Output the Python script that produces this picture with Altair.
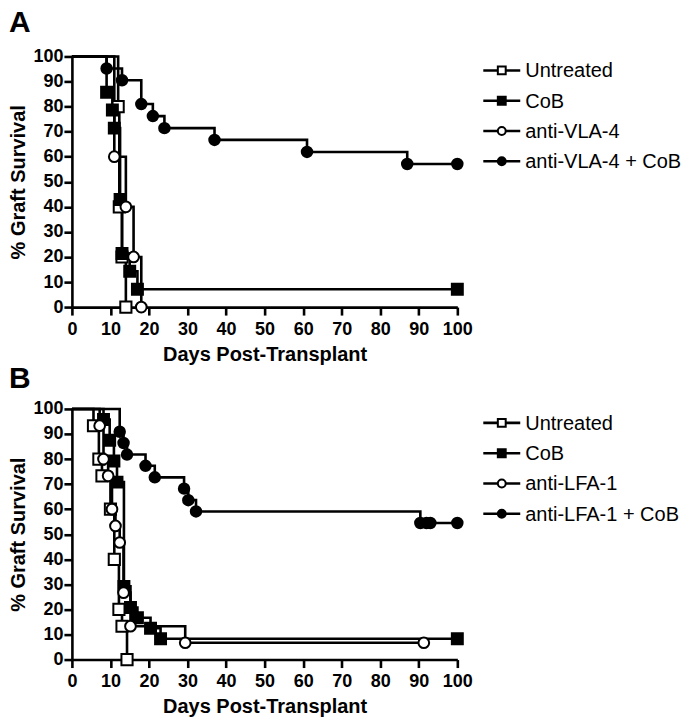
import altair as alt
import pandas as pd

# ---------------- Panel A data ----------------
A_series = ["Untreated", "CoB", "anti-VLA-4", "anti-VLA-4 + CoB"]
A_untreated_days = [0, 12, 12.3, 13, 14]
A_untreated_surv = [100, 80, 40, 20, 0]
A_cob_days = [0, 9, 10.5, 11, 12.5, 13, 15, 17, 100]
A_cob_surv = [100, 85.7, 78.6, 71.4, 42.9, 21.4, 14.3, 7.1, 7.1]
A_vla_days = [0, 11, 14, 16, 18]
A_vla_surv = [100, 60, 40, 20, 0]
A_vlacob_days = [0, 9, 13, 18, 21, 24, 37, 61, 87, 100]
A_vlacob_surv = [100, 95.2, 90.5, 81.0, 76.2, 71.4, 66.7, 61.9, 57.1, 57.1]

# ---------------- Panel B data ----------------
B_series = ["Untreated", "CoB", "anti-LFA-1", "anti-LFA-1 + CoB"]
B_untreated_days = [0, 5.6, 7, 7.8, 10, 11, 12.2, 13, 14.3]
B_untreated_surv = [100, 93.3, 80, 73.3, 60, 40, 20, 13.3, 0]
B_cob_days = [0, 8.2, 9.8, 10.9, 11.7, 13.5, 15.2, 17, 20.4, 23, 100]
B_cob_surv = [100, 95.8, 87.5, 79.2, 70.8, 29.2, 20.8, 16.7, 12.5, 8.3, 8.3]
B_lfa_days = [0, 7.2, 8.2, 9.4, 10.4, 11.3, 12.4, 13.4, 15.2, 29.4, 91.3]
B_lfa_surv = [100, 93.3, 80, 73.3, 60, 53.3, 46.7, 26.7, 13.3, 6.7, 6.7]
B_lfacob_days = [0, 12.4, 13.4, 14.3, 19.1, 21.5, 29.1, 30.2, 32.2, 90.4, 92, 93, 100]
B_lfacob_surv = [100, 90.9, 86.4, 81.8, 77.3, 72.7, 68.2, 63.6, 59.1, 54.5, 54.5, 54.5, 54.5]

x_ticks = list(range(0, 101, 10))
y_ticks = list(range(0, 101, 10))

FONT = "Liberation Sans"

fills = ["white", "black", "white", "black"]
plot_shapes = ["square", "square", "circle", "circle"]
plot_sizes = [125, 110, 95, 105]


def build_df(series, days_list, surv_list):
    rows = []
    for s, ds, vs in zip(series, days_list, surv_list):
        for i, (d, v) in enumerate(zip(ds, vs)):
            rows.append({"series": s, "day": d, "surv": v, "ord": i, "marker": i > 0})
    return pd.DataFrame(rows)


def panel(letter, series, df, t_offset):
    shape_enc = alt.Shape("series:N", scale=alt.Scale(domain=series, range=plot_shapes), legend=None)
    fill_enc = alt.Fill("series:N", scale=alt.Scale(domain=series, range=fills), legend=None)
    x = alt.X("day:Q", scale=alt.Scale(domain=[0, 100], nice=False),
              axis=alt.Axis(values=x_ticks, title="Days Post-Transplant"))
    y = alt.Y("surv:Q", scale=alt.Scale(domain=[0, 100], nice=False),
              axis=alt.Axis(values=y_ticks, title="% Graft Survival"))
    base = alt.Chart(df)
    lines = base.mark_line(interpolate="step-after", color="black", strokeWidth=2.6).encode(
        x=x, y=y, detail="series:N", order="ord:Q")
    pts = base.transform_filter("datum.marker").mark_point(
        stroke="black", strokeWidth=2, opacity=1, fillOpacity=1).encode(
        x=x, y=y, shape=shape_enc, fill=fill_enc,
        size=alt.Size("series:N", scale=alt.Scale(domain=series, range=plot_sizes), legend=None),
    )
    plot = alt.layer(lines, pts)

    # legend drawn as its own small layer (row position from a scale)
    leg_df = pd.DataFrame({"series": series, "idx": list(range(len(series)))})
    ly = alt.Y("idx:Q", scale=alt.Scale(domain=[0, 3], range=[14, 105]), axis=None)
    lbase = alt.Chart(leg_df)
    lrule = lbase.mark_rule(color="black", strokeWidth=2.6).encode(
        x=alt.value(412), x2=alt.value(449), y=ly)
    lpts = lbase.mark_point(stroke="black", strokeWidth=2, opacity=1, fillOpacity=1, size=62).encode(
        x=alt.value(430.5), y=ly, shape=shape_enc, fill=fill_enc)
    ltext = lbase.mark_text(align="left", baseline="middle", font=FONT, fontSize=20,
                            color="black", dy=1).encode(
        x=alt.value(454), y=ly, text="series:N")
    legend = alt.layer(lrule, lpts, ltext)

    return alt.layer(plot, legend).resolve_scale(y="independent").properties(
        width=386, height=251,
        title=alt.TitleParams(letter, anchor="start", frame="bounds", fontSize=30,
                              fontWeight="bold", font=FONT, color="black",
                              offset=t_offset))


dfA = build_df(A_series,
               [A_untreated_days, A_cob_days, A_vla_days, A_vlacob_days],
               [A_untreated_surv, A_cob_surv, A_vla_surv, A_vlacob_surv])
dfB = build_df(B_series,
               [B_untreated_days, B_cob_days, B_lfa_days, B_lfacob_days],
               [B_untreated_surv, B_cob_surv, B_lfa_surv, B_lfacob_surv])

chart = alt.vconcat(panel("A", A_series, dfA, 9), panel("B", B_series, dfB, 6),
                    spacing=0).resolve_scale(
    shape="independent", fill="independent", size="independent").configure_view(
    stroke=None).configure_axis(
    grid=False, domainColor="black", domainWidth=2.6, tickColor="black", tickWidth=2.6,
    tickSize=8, labelFont=FONT, labelFontSize=18, labelFontWeight="bold", labelColor="black",
    titleFont=FONT, titleFontSize=20, titleFontWeight="bold", titleColor="black",
    labelFlush=False
).configure_axisY(titlePadding=4, labelPadding=1).configure_axisX(
    titlePadding=6, labelPadding=5).properties(
    padding={"left": 0, "top": 0, "right": 0, "bottom": 0}, background="white")

chart.save("out.html", embed_options={"renderer": "svg", "actions": False})
